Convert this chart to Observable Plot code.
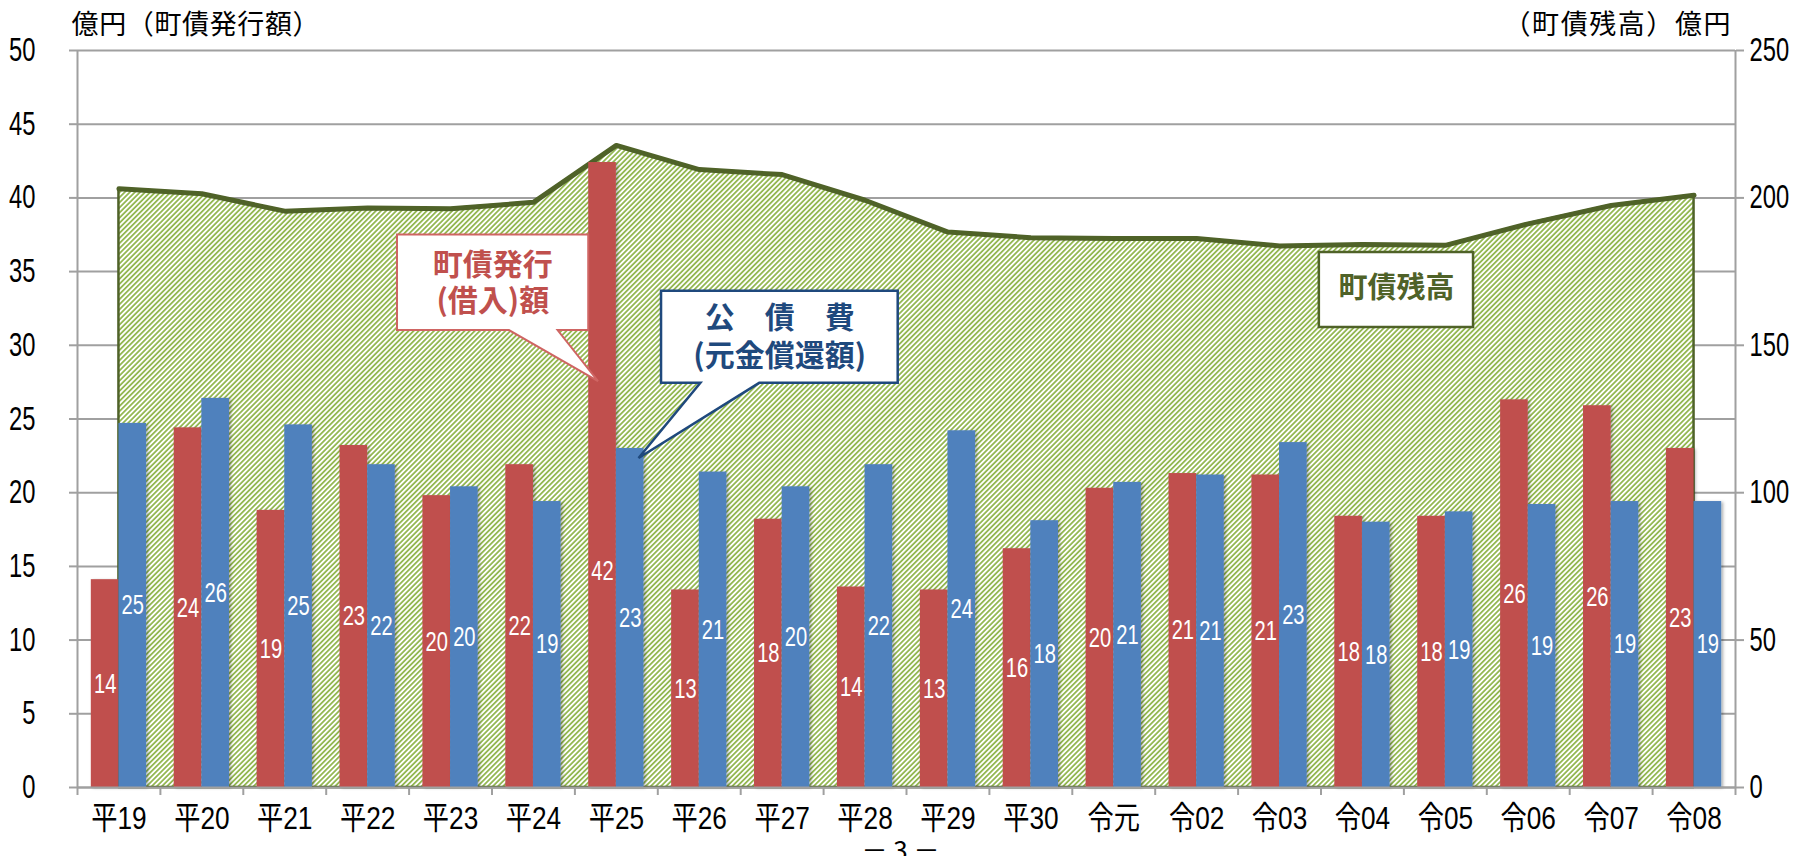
<!DOCTYPE html>
<html><head><meta charset="utf-8">
<script src="https://cdn.jsdelivr.net/npm/d3@7"></script>
<script src="https://cdn.jsdelivr.net/npm/@observablehq/plot@0.6"></script>
<style>
html,body{margin:0;padding:0;background:#fff;}
#chart svg{display:block;}
</style></head><body><div id="chart"></div>
<script>
// ---- data ----
const categories = ["平19","平20","平21","平22","平23","平24","平25","平26","平27","平28","平29","平30","令元","令02","令03","令04","令05","令06","令07","令08"];
// 町債発行（借入）額, 億円 (left axis)
const issuance  = [14.1,24.4,18.8,23.2,19.8,21.9,42.4,13.4,18.2,13.6,13.4,16.2,20.3,21.3,21.2,18.4,18.4,26.3,25.9,23.0];
// 公債費（元金償還額）, 億円 (left axis)
const repayment = [24.7,26.4,24.6,21.9,20.4,19.4,23.0,21.4,20.4,21.9,24.2,18.1,20.7,21.2,23.4,18.0,18.7,19.2,19.4,19.4];
// 町債残高, 億円 (right axis)
const balance   = [203.1,201.4,195.5,196.6,196.3,198.5,217.8,209.6,207.9,199.2,188.4,186.5,186.2,186.2,183.7,184.2,183.9,191.2,197.4,200.9];
const leftTicks  = [0,5,10,15,20,25,30,35,40,45,50];
const rightTicks = [0,50,100,150,200,250];
const leftTitle  = "億円（町債発行額）";
const rightTitle = "（町債残高）億円";
const pageNo = "－ 3 －";

// annotation callouts (in data space: x = category index, y = left-axis units)
const callouts = [
  {x1: 3.36, x2: 5.667, y1: 31.0, y2: 37.48, base: [4.71, 5.297], tip: [5.785, 27.54], stroke: "#CF6563", width: 2},
  {x1: 6.545, x2: 9.40, y1: 27.42, y2: 33.67, base: [7.02, 7.73], tip: [6.274, 22.32], stroke: "#1F497D", width: 2.5},
  {x1: 14.48, x2: 16.34, y1: 31.2, y2: 36.3, stroke: "#4F6228", width: 2.5}
];
const calloutTexts = [
  {x: 4.51, y: 35.41, text: "町債発行", color: "#C0504D", size: 30},
  {x: 4.51, y: 32.97, text: "(借入)額", color: "#C0504D", size: 30},
  {x: 7.97, y: 31.82, text: "公　債　費", color: "#1F497D", size: 30},
  {x: 7.97, y: 29.24, text: "(元金償還額)", color: "#1F497D", size: 30},
  {x: 15.41, y: 33.85, text: "町債残高", color: "#4F6228", size: 29}
];

const ratio = 50 / 250; // right axis -> left axis units
const rows = categories.map((c, i) => ({i, c, issue: issuance[i], repay: repayment[i], bal: balance[i]}));

const NUM = '"Liberation Sans", Arial, "Noto Sans CJK JP", sans-serif';
const CJK = '"Noto Sans CJK JP", sans-serif';
const GRID = "#a0a0a0";

const defs = () => {
  const d = d3.create("svg:defs");
  const p = d.append("pattern").attr("id", "hatch").attr("patternUnits", "userSpaceOnUse")
    .attr("width", 3.6).attr("height", 3.6).attr("patternTransform", "rotate(45)");
  p.append("rect").attr("width", 3.6).attr("height", 3.6).attr("fill", "#ffffff");
  p.append("rect").attr("width", 2.2).attr("height", 3.6).attr("fill", "#94B853");
  const f = d.append("filter").attr("id", "shadow").attr("x", "-20%").attr("y", "-5%").attr("width", "160%").attr("height", "110%");
  f.append("feDropShadow").attr("dx", 2).attr("dy", 1).attr("stdDeviation", 1.5)
    .attr("flood-color", "#000").attr("flood-opacity", 0.3);
  return d.node();
};

const calloutMark = (index, scales) => {
  const sx = scales.x, sy = scales.y;
  const g = d3.create("svg:g");
  for (const b of callouts) {
    const L = sx(b.x1), R = sx(b.x2), T = sy(b.y2), B = sy(b.y1);
    let p = `M${L},${T}H${R}V${B}`;
    if (b.tip) p += `H${sx(b.base[1])}L${sx(b.tip[0])},${sy(b.tip[1])}L${sx(b.base[0])},${B}`;
    p += `H${L}Z`;
    g.append("path").attr("d", p).attr("fill", "#fff").attr("stroke", b.stroke)
      .attr("stroke-width", b.width).attr("stroke-linejoin", "miter");
  }
  return g.node();
};

const chart = Plot.plot({
  width: 1804, height: 856,
  marginLeft: 77, marginRight: 69, marginTop: 50, marginBottom: 69,
  style: {fontFamily: NUM, background: "#fff", overflow: "visible"},
  x: {domain: [-0.5, categories.length - 0.5], axis: null},
  y: {domain: [0, 50], axis: null},
  marks: [
    defs,
    Plot.ruleY(leftTicks, {stroke: GRID, strokeWidth: 2}),
    Plot.areaY(rows, {x: "i", y: d => d.bal * ratio, fill: "url(#hatch)", stroke: "#4F6228", strokeWidth: 2.5}),
    Plot.lineY(rows, {x: "i", y: d => d.bal * ratio, stroke: "#4F6228", strokeWidth: 5, strokeLinejoin: "round"}),
    Plot.rectY(rows, {x1: d => d.i - 1/3, x2: d => d.i, y1: 0, y2: "issue", fill: "#C0504D"}),
    Plot.rectY(rows, {x1: d => d.i, x2: d => d.i + 1/3, y1: 0, y2: "repay", fill: "#4F81BD"}),
    Plot.ruleX([-0.5, categories.length - 0.5], {stroke: GRID, strokeWidth: 2}),
    Plot.ruleY([0], {stroke: GRID, strokeWidth: 2}),
    Plot.axisY({anchor: "left", ticks: leftTicks, tickSize: 8, tickPadding: 34, stroke: GRID, strokeWidth: 2, fill: "#000", fontSize: 33, label: null}),
    Plot.axisY({anchor: "right", ticks: rightTicks.map(v => v * ratio), tickFormat: d => Math.round(d / ratio), tickSize: 8, tickPadding: 6, stroke: GRID, strokeWidth: 2, fill: "#000", fontSize: 33, label: null}),
    Plot.axisX({ticks: d3.range(-0.5, categories.length, 1), tickSize: 8, tickFormat: () => "", stroke: GRID, strokeWidth: 2, label: null}),
    Plot.axisX({ticks: d3.range(categories.length), tickSize: 0, tickPadding: 19, tickFormat: i => categories[i], fill: "#000", fontSize: 32, label: null}),
    // value labels
    Plot.text(rows.filter(d => d.i !== 6), {x: d => d.i - 1/6, y: d => d.issue / 2, text: d => String(Math.round(d.issue)), fill: "#fff", fontSize: 28, fontFamily: NUM}),
    Plot.text(rows.filter(d => d.i === 6), {x: d => d.i - 1/6, y: d => d.issue / 2, dy: 96, text: d => String(Math.round(d.issue)), fill: "#fff", fontSize: 28, fontFamily: NUM}),
    Plot.text(rows, {x: d => d.i + 1/6, y: d => d.repay / 2, text: d => String(Math.round(d.repay)), fill: "#fff", fontSize: 28, fontFamily: NUM}),
    // callouts
    calloutMark,
    Plot.text(calloutTexts, {x: "x", y: "y", text: "text", fill: d => d.color, fontSize: d => d.size, fontWeight: "bold", fontFamily: CJK}),
    // axis titles
    Plot.text([leftTitle], {frameAnchor: "top-left", dx: -6, dy: -25, textAnchor: "start", lineAnchor: "middle", fontSize: 27, fontFamily: CJK, fill: "#000"}),
    Plot.text([rightTitle], {frameAnchor: "top-right", dx: -5, dy: -25, textAnchor: "end", lineAnchor: "middle", fontSize: 27, fontFamily: CJK, fill: "#000"}),
    Plot.text([pageNo], {frameAnchor: "bottom", dx: -6, dy: 64, lineAnchor: "middle", fontSize: 26, fontFamily: CJK, fill: "#000"})
  ]
});
document.getElementById("chart").appendChild(chart);

// narrow-font look: compress glyphs horizontally around each text's own anchor x
function condense(sel, f) {
  sel.each(function () {
    const cx = parseFloat(this.getAttribute("x")) || 0;
    const t = this.getAttribute("transform") || "";
    this.setAttribute("transform", `${t} translate(${cx},0) scale(${f},1) translate(${-cx},0)`.trim());
  });
}
function setLength(sel, len) {
  sel.each(function () { this.setAttribute("textLength", len); this.setAttribute("lengthAdjust", "spacing"); });
}
const svg = d3.select(chart);
const isWhite = el => getComputedStyle(el).fill.replace(/\s/g, "") === "rgb(255,255,255)";
condense(svg.selectAll('g[aria-label="y-axis tick label"] text'), 0.72);
condense(svg.selectAll('g[aria-label="x-axis tick label"] text'), 0.82);
condense(svg.selectAll("text").filter(function () { return isWhite(this); }), 0.72);
setLength(svg.selectAll("text").filter(function () { return this.textContent === leftTitle; }), 248);
setLength(svg.selectAll("text").filter(function () { return this.textContent === rightTitle; }), 227);
svg.selectAll('g[aria-label="rect"]').attr("filter", "url(#shadow)");
svg.selectAll("pattern#hatch rect").attr("shape-rendering", "crispEdges");
</script></body></html>
